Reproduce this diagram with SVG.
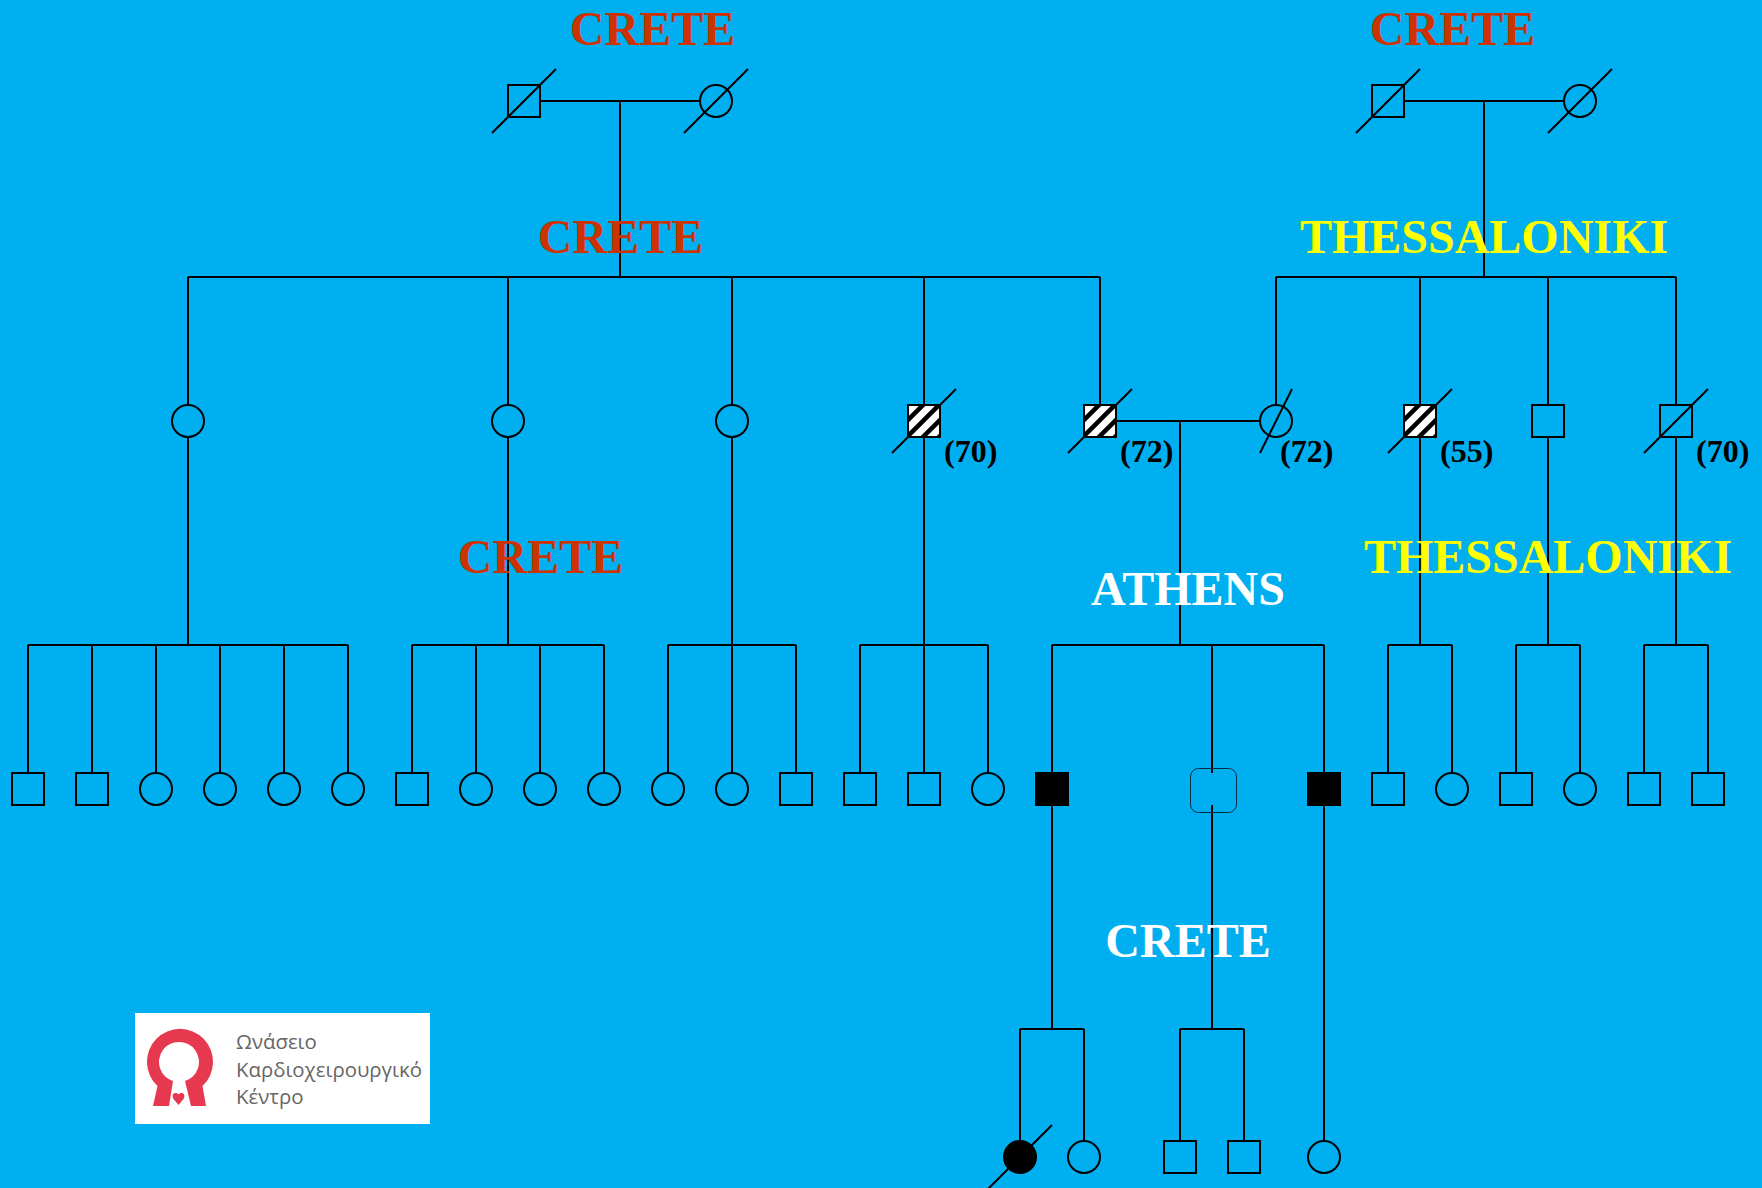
<svg xmlns="http://www.w3.org/2000/svg" width="1762" height="1188" viewBox="0 0 1762 1188">
<style>
.l{fill:none;stroke:#000;stroke-width:2}
.s{fill:none;stroke:#000;stroke-width:2}
.f{fill:#000;stroke:#000;stroke-width:2}
.h{fill:url(#hatch);stroke:#000;stroke-width:2}
.t{font-family:"Liberation Serif",serif;font-weight:bold;font-size:48px;text-anchor:middle}
.r{fill:#CC3300}.y{fill:#FFFF00}.w{fill:#FFFFFF}
.a{font-family:"Liberation Serif",serif;font-weight:bold;font-size:32px;fill:#000}
.g{font-family:"Open Sans","Noto Sans",sans-serif;font-size:20.400px;fill:#666}
</style>
<defs>
<pattern id="hatch" width="16" height="16" patternUnits="userSpaceOnUse" patternTransform="translate(907 405)">
<rect width="16" height="16" fill="#fff"/>
<path d="M-4 4L4 -4M-4 20L20 -4M12 20L20 12" stroke="#000" stroke-width="4.500"/>
</pattern>
<rect id="sq" x="-16" y="-16" width="32" height="32"/>
<circle id="ci" r="16"/>
</defs>
<rect width="1762" height="1188" fill="#00AFF0"/>
<g id="connectors" class="l">
<path d="M540 101H700M620 101V277M1404 101H1564M1484 101V277"/>
<path d="M188 277H1100M188 277V405M508 277V405M732 277V405M924 277V405M1100 277V405"/>
<path d="M1276 277H1676M1276 277V405M1420 277V405M1548 277V405M1676 277V405"/>
<path d="M1116 421H1260M1180 421V645"/>
<path d="M188 437V645M508 437V645M732 437V645M924 437V645M1420 437V645M1548 437V645M1676 437V645"/>
<path d="M28 645H348M28 645V773M92 645V773M156 645V773M220 645V773M284 645V773M348 645V773"/>
<path d="M412 645H604M412 645V773M476 645V773M540 645V773M604 645V773"/>
<path d="M668 645H796M668 645V773M732 645V773M796 645V773"/>
<path d="M860 645H988M860 645V773M924 645V773M988 645V773"/>
<path d="M1052 645H1324M1052 645V773M1212 645V773M1324 645V773"/>
<path d="M1388 645H1452M1388 645V773M1452 645V773"/>
<path d="M1516 645H1580M1516 645V773M1580 645V773"/>
<path d="M1644 645H1708M1644 645V773M1708 645V773"/>
<path d="M1052 805V1029M1212 805V1029M1324 805V1141"/>
<path d="M1020 1029H1084M1020 1029V1141M1084 1029V1141"/>
<path d="M1180 1029H1244M1180 1029V1141M1244 1029V1141"/>
</g>
<g id="gp1"><use href="#sq" x="524" y="101" class="s"/><path class="l" d="M492 133L556 69"/></g>
<g id="gp2"><use href="#ci" x="716" y="101" class="s"/><path class="l" d="M684 133L748 69"/></g>
<g id="gp3"><use href="#sq" x="1388" y="101" class="s"/><path class="l" d="M1356 133L1420 69"/></g>
<g id="gp4"><use href="#ci" x="1580" y="101" class="s"/><path class="l" d="M1548 133L1612 69"/></g>
<g id="p1"><use href="#ci" x="188" y="421" class="s"/></g>
<g id="p2"><use href="#ci" x="508" y="421" class="s"/></g>
<g id="p3"><use href="#ci" x="732" y="421" class="s"/></g>
<g id="p4"><rect x="908" y="405" width="32" height="32" class="h"/><path class="l" d="M892 453L908 437M940 405L956 389"/></g>
<g id="p5"><rect x="1084" y="405" width="32" height="32" class="h"/><path class="l" d="M1068 453L1084 437M1116 405L1132 389"/></g>
<g id="p6"><use href="#ci" x="1276" y="421" class="s"/><path class="l" d="M1260 453L1292 389"/></g>
<g id="p7"><rect x="1404" y="405" width="32" height="32" class="h"/><path class="l" d="M1388 453L1404 437M1436 405L1452 389"/></g>
<g id="p8"><use href="#sq" x="1548" y="421" class="s"/></g>
<g id="p9"><use href="#sq" x="1676" y="421" class="s"/><path class="l" d="M1644 453L1708 389"/></g>
<g id="c1"><use href="#sq" x="28" y="789" class="s"/></g>
<g id="c2"><use href="#sq" x="92" y="789" class="s"/></g>
<g id="c3"><use href="#ci" x="156" y="789" class="s"/></g>
<g id="c4"><use href="#ci" x="220" y="789" class="s"/></g>
<g id="c5"><use href="#ci" x="284" y="789" class="s"/></g>
<g id="c6"><use href="#ci" x="348" y="789" class="s"/></g>
<g id="c7"><use href="#sq" x="412" y="789" class="s"/></g>
<g id="c8"><use href="#ci" x="476" y="789" class="s"/></g>
<g id="c9"><use href="#ci" x="540" y="789" class="s"/></g>
<g id="c10"><use href="#ci" x="604" y="789" class="s"/></g>
<g id="c11"><use href="#ci" x="668" y="789" class="s"/></g>
<g id="c12"><use href="#ci" x="732" y="789" class="s"/></g>
<g id="c13"><use href="#sq" x="796" y="789" class="s"/></g>
<g id="c14"><use href="#sq" x="860" y="789" class="s"/></g>
<g id="c15"><use href="#sq" x="924" y="789" class="s"/></g>
<g id="c16"><use href="#ci" x="988" y="789" class="s"/></g>
<g id="c17"><use href="#sq" x="1052" y="789" class="f"/></g>
<g id="c18"><rect x="1190.500" y="768.500" width="46" height="44" rx="8" fill="none" stroke="#0A2A44" stroke-width="1"/></g>
<g id="c19"><use href="#sq" x="1324" y="789" class="f"/></g>
<g id="c20"><use href="#sq" x="1388" y="789" class="s"/></g>
<g id="c21"><use href="#ci" x="1452" y="789" class="s"/></g>
<g id="c22"><use href="#sq" x="1516" y="789" class="s"/></g>
<g id="c23"><use href="#ci" x="1580" y="789" class="s"/></g>
<g id="c24"><use href="#sq" x="1644" y="789" class="s"/></g>
<g id="c25"><use href="#sq" x="1708" y="789" class="s"/></g>
<g id="d1"><use href="#ci" x="1020" y="1157" class="f"/><path class="l" d="M988 1189L1052 1125"/></g>
<g id="d2"><use href="#ci" x="1084" y="1157" class="s"/></g>
<g id="d3"><use href="#sq" x="1180" y="1157" class="s"/></g>
<g id="d4"><use href="#sq" x="1244" y="1157" class="s"/></g>
<g id="d5"><use href="#ci" x="1324" y="1157" class="s"/></g>
<g id="labels">
<text class="t r" x="652.500" y="45">CRETE</text>
<text class="t r" x="1452.500" y="45">CRETE</text>
<text class="t r" x="620.500" y="253">CRETE</text>
<text class="t y" x="1484" y="253">THESSALONIKI</text>
<text class="t r" x="540.500" y="573">CRETE</text>
<text class="t y" x="1548" y="573">THESSALONIKI</text>
<text class="t w" x="1188" y="605">ATHENS</text>
<text class="t w" x="1188" y="957">CRETE</text>
<text class="a" x="944" y="462">(70)</text>
<text class="a" x="1120" y="462">(72)</text>
<text class="a" x="1280" y="462">(72)</text>
<text class="a" x="1440" y="462">(55)</text>
<text class="a" x="1696" y="462">(70)</text>
</g>
<g id="logo">
<rect x="135" y="1013" width="295" height="111" fill="#fff"/>
<path fill="#E63950" d="M153 1106L157.500 1086A33 33 0 1 1 202.500 1086L206 1106H191L185 1081A20 20 0 1 0 173 1081L169 1106Z"/>
<path fill="#E63950" d="M178.500 1105L173.500 1099C170.500 1094 175.500 1091 178.500 1094.500C181.500 1091 186.500 1094 183.500 1099Z"/>
<text class="g" x="236" y="1049">Ωνάσειο</text>
<text class="g" x="236" y="1077">Καρδιοχειρουργικό</text>
<text class="g" x="236" y="1104">Κέντρο</text>
</g>
</svg>
